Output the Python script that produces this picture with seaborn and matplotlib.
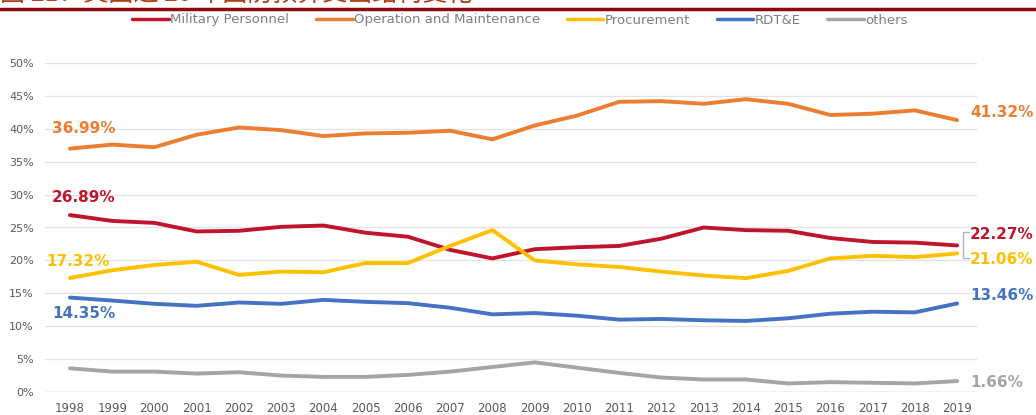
import matplotlib
matplotlib.use("Agg")
import matplotlib.pyplot as plt
import seaborn as sns
import pandas as pd
from matplotlib.lines import Line2D

years = list(range(1998, 2020))
military = [26.89, 26.0, 25.7, 24.4, 24.5, 25.1, 25.3, 24.2, 23.6, 21.6, 20.3, 21.7,
            22.0, 22.2, 23.3, 25.0, 24.6, 24.5, 23.4, 22.8, 22.7, 22.27]
operation = [36.99, 37.6, 37.2, 39.1, 40.2, 39.8, 38.9, 39.3, 39.4, 39.7, 38.4, 40.5,
             42.0, 44.1, 44.2, 43.8, 44.5, 43.8, 42.1, 42.3, 42.8, 41.32]
procurement = [17.32, 18.5, 19.3, 19.8, 17.8, 18.3, 18.2, 19.6, 19.6, 22.2, 24.6, 20.0,
               19.4, 19.0, 18.3, 17.7, 17.3, 18.4, 20.3, 20.7, 20.5, 21.06]
rdte = [14.35, 13.9, 13.4, 13.1, 13.6, 13.4, 14.0, 13.7, 13.5, 12.8, 11.8, 12.0,
        11.6, 11.0, 11.1, 10.9, 10.8, 11.2, 11.9, 12.2, 12.1, 13.46]
others = [3.6, 3.1, 3.1, 2.8, 3.0, 2.5, 2.3, 2.3, 2.6, 3.1, 3.8, 4.5,
          3.7, 2.9, 2.2, 1.9, 1.9, 1.3, 1.5, 1.4, 1.3, 1.66]
series_names = ["Military Personnel", "Operation and Maintenance", "Procurement", "RDT&E", "others"]
yticks = [0, 5, 10, 15, 20, 25, 30, 35, 40, 45, 50]
title_text = "图 21：美国近 20 年国防预算支出结构变化"
colors = ["#C0142C", "#ED7D31", "#FFC000", "#4472C4", "#A5A5A5"]

data = {"Military Personnel": military, "Operation and Maintenance": operation,
        "Procurement": procurement, "RDT&E": rdte, "others": others}
rows = []
for name in series_names:
    for y, v in zip(years, data[name]):
        rows.append({"year": y, "value": v, "series": name})
df = pd.DataFrame(rows)

sns.set_theme(style="white")
plt.rcParams['font.family'] = ['DejaVu Sans', 'Noto Sans CJK SC']

fig = plt.figure(figsize=(10.36, 4.15), dpi=100)
ax = fig.add_axes([45/1036, 23/415, 932/1036, 329/415])

sns.lineplot(data=df, x="year", y="value", hue="series", hue_order=series_names,
             palette=colors, linewidth=2.8, ax=ax, legend=False)

ax.set_xlim(1997.41, 2019.47)
ax.set_ylim(0, 50)
ax.set_yticks(yticks)
ax.set_yticklabels([f"{t}%" for t in yticks], fontsize=8, color="#595959")
ax.set_xticks(years)
ax.set_xticklabels([str(y) for y in years], fontsize=8.5, color="#595959")
ax.tick_params(axis='both', length=0)
ax.tick_params(axis='x', pad=7)
ax.tick_params(axis='y', pad=8)
ax.grid(axis='y', color="#E3E3E3", linewidth=0.9)
ax.set_axisbelow(True)
for s in ax.spines.values():
    s.set_visible(False)
ax.axhline(0, color="#D0D0D0", linewidth=1.0, zorder=0.5)
ax.set_xlabel("")
ax.set_ylabel("")

lab = dict(fontsize=11, fontweight='bold', va='center', ha='left')
# left-side start labels
ax.text(1997.58, 40.0, f"{operation[0]:.2f}%", color=colors[1], **lab)
ax.text(1997.58, 29.6, f"{military[0]:.2f}%", color=colors[0], **lab)
ax.text(1997.43, 19.8, f"{procurement[0]:.2f}%", color=colors[2], **lab)
ax.text(1997.58, 12.0, f"{rdte[0]:.2f}%", color=colors[3], **lab)
# right-side end labels
ax.text(2019.31, 42.5, f"{operation[-1]:.2f}%", color=colors[1], clip_on=False, **lab)
ax.text(2019.31, 24.0, f"{military[-1]:.2f}%", color=colors[0], clip_on=False, **lab)
ax.text(2019.31, 20.1, f"{procurement[-1]:.2f}%", color=colors[2], clip_on=False, **lab)
ax.text(2019.31, 14.6, f"{rdte[-1]:.2f}%", color=colors[3], clip_on=False, **lab)
ax.text(2019.31, 1.4, f"{others[-1]:.2f}%", color=colors[4], clip_on=False, **lab)

# small bracket linking the two close end labels
ax.plot([2019.28, 2019.15, 2019.15, 2019.28], [24.3, 24.3, 20.3, 20.3],
        color="#A9B4CC", linewidth=1.0, clip_on=False)

# legend
handles = [Line2D([0], [0], color=c, linewidth=2.5) for c in colors]
leg = fig.legend(handles, series_names, loc="center", ncol=5, bbox_to_anchor=(0.502, 1 - 20/415),
                 frameon=False, fontsize=9.5, handlelength=2.8, handletextpad=0.1,
                 columnspacing=2.0, labelcolor="#7F7F7F")

# clipped title and rule at top
fig.text(0.0, 1 + 6.5/415, title_text, fontsize=18, color="#B0401C",
         family=['Noto Sans CJK SC', 'DejaVu Sans'], ha='left', va='center')
fig.add_artist(Line2D([0, 1], [1 - 9.5/415, 1 - 9.5/415], transform=fig.transFigure,
                      color="#8B0A0A", linewidth=2.5))

fig.savefig("out.png", dpi=100)
